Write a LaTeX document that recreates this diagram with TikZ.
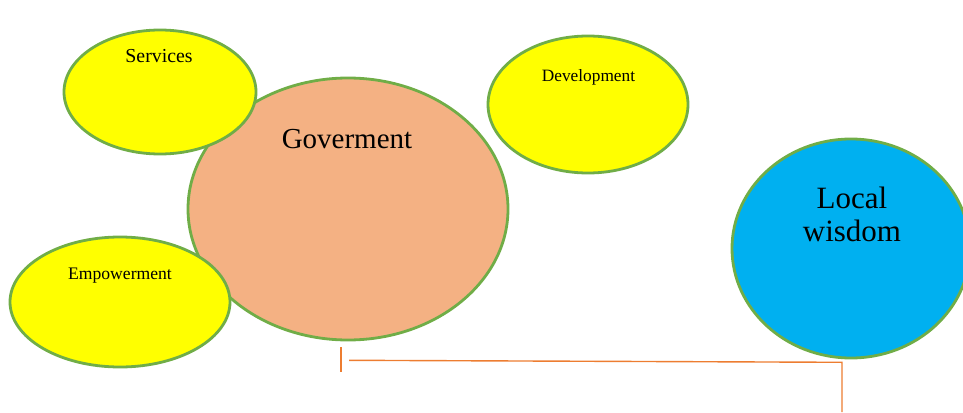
\documentclass[tikz,border=0pt]{standalone}
\usepackage{fontspec}
\setmainfont{Liberation Serif}
\usetikzlibrary{shapes.geometric}
\definecolor{rimgreen}{HTML}{70AD47}
\definecolor{bubbleyellow}{HTML}{FFFF00}
\definecolor{govsalmon}{HTML}{F4B183}
\definecolor{wisdomblue}{HTML}{00B0F0}
\definecolor{linkorange}{HTML}{ED7D31}
\tikzset{
  bubble/.style={ellipse, draw=rimgreen, line width=2.8pt, inner sep=0pt, outer sep=0pt},
  theme/.style={bubble, fill=bubbleyellow},
  caption/.style={inner sep=0pt, text=black, align=center},
  link/.style={draw=linkorange, line width=1.4pt}
}
\begin{document}
\begin{tikzpicture}[x=1pt, y=-1pt]
  \useasboundingbox (0,0) rectangle (963,412);
  \clip (0,0) rectangle (963,412);

  % central body and the surrounding themes
  \node[bubble, fill=govsalmon, minimum width=320pt, minimum height=262pt] (gov) at (348,209) {};
  \node[theme, minimum width=192pt, minimum height=124pt] (services) at (160,92) {};
  \node[theme, minimum width=220pt, minimum height=130pt] (empower) at (120,302) {};
  \node[theme, minimum width=200pt, minimum height=137pt] (develop) at (588,104.5) {};
  \node[bubble, fill=wisdomblue, minimum width=238pt, minimum height=219pt] (wisdom) at (851,248.5) {};

  % labels
  \node[caption, font=\fontsize{29}{32}\selectfont] (govtext) at (347,139) {Goverment};
  \node[caption, font=\fontsize{19.8}{22}\selectfont] (servtext) at (159,56) {Services};
  \node[caption, font=\fontsize{17.6}{20}\selectfont] (emptext) at (120,276) {Empowerment};
  \node[caption, font=\fontsize{17.3}{20}\selectfont] (devtext) at (588.5,77) {Development};
  \node[caption, font=\fontsize{31}{33}\selectfont] (loctext) at (852,198) {Local};
  \node[caption, font=\fontsize{31}{33}\selectfont] (wistext) at (852,231) {wisdom};

  % connector between the bodies
  \coordinate (g1) at (341,347);
  \coordinate (g2) at (341,372);
  \coordinate (h1) at (349,360.3);
  \coordinate (h2) at (842,362.3);
  \coordinate (w1) at (842,412);
  \draw[link] (g1) -- (g2);
  \draw[link] (h1) -- (h2) -- (w1);
\end{tikzpicture}
\end{document}
